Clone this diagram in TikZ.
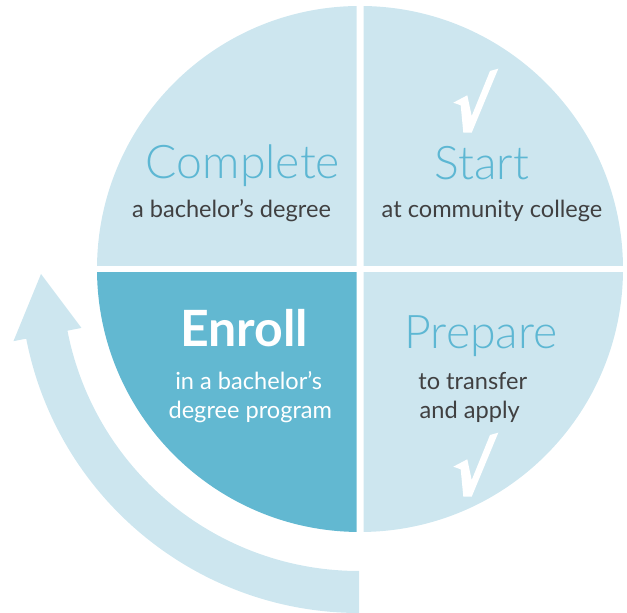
\documentclass[tikz,border=0pt]{standalone}
\usepackage{fontspec}
\setmainfont{Lato}
\newfontfamily\lightfont{Lato Light}
\definecolor{paleblue}{HTML}{CDE6EF}
\definecolor{deepblue}{HTML}{62B8D1}
\definecolor{titleblue}{HTML}{5DB7D3}
\definecolor{textgrey}{HTML}{404041}
\tikzset{
  steptitle/.style={font=\lightfont\fontsize{23.2}{28}\selectfont,text=titleblue,anchor=base,inner sep=0pt},
  stepsub/.style={font=\fontsize{11.8}{14}\selectfont,text=textgrey,anchor=base,inner sep=0pt},
  tick/.style={fill=white}
}
\begin{document}
\begin{tikzpicture}[line cap=round,line join=round,x=0.5pt,y=0.5pt]
\useasboundingbox (0,0) rectangle (627,613);
% four quarters of the wheel
\begin{scope}
\clip (0,347.5) rectangle (356.5,613);
\fill [paleblue] (360,344) circle (263);
\end{scope}
\begin{scope}
\clip (363.5,347.5) rectangle (627,613);
\fill [paleblue] (360,344) circle (263);
\end{scope}
\begin{scope}
\clip (0,0) rectangle (356.5,340.5);
\fill [deepblue] (360,344) circle (263);
\end{scope}
\begin{scope}
\clip (363.5,0) rectangle (627,340.5);
\fill [paleblue] (360,344) circle (263);
\end{scope}
% curved arrow round the left side
\begin{scope}[shift={(359,339)}]
\fill [paleblue] (270:339) arc [start angle=270,end angle=191,radius=339]
  -- (191:352) -- (180:318) -- (191:282.7) -- (191:297)
  arc [start angle=191,end angle=270,radius=297] -- cycle;
\end{scope}
% ticks
\foreach \dy in {0,364}
  \fill [tick,shift={(0,\dy)}] (453.3,146.3) -- (467.3,153.7) -- (471.7,133) -- (490,178)
    -- (498.3,180.3) -- (471.7,116.3) -- (463.3,116.3) -- (460.7,143.7) -- cycle;
\node [steptitle] (complete) at (243,434) {Complete};
\node [stepsub] (completesub) at (231.5,395.3) {a bachelor’s degree};
\node [steptitle] (start) at (482,433.7) {Start};
\node [stepsub] (startsub) at (492,395.3) {at community college};
\node [steptitle,font=\bfseries\fontsize{25}{30}\selectfont,text=white] (enroll) at (244,266.3) {Enroll};
\node [stepsub,text=white] (enrollsub) at (248.7,223.7) {in a bachelor’s};
\node [stepsub,text=white] (enrollsubb) at (250.3,194.7) {degree program};
\node [steptitle] (prepare) at (481,264) {Prepare};
\node [stepsub,anchor=base west] (preparesub) at (418,223.7) {to transfer};
\node [stepsub,anchor=base west] (preparesubb) at (419.3,194.7) {and apply};
\end{tikzpicture}
\end{document}
